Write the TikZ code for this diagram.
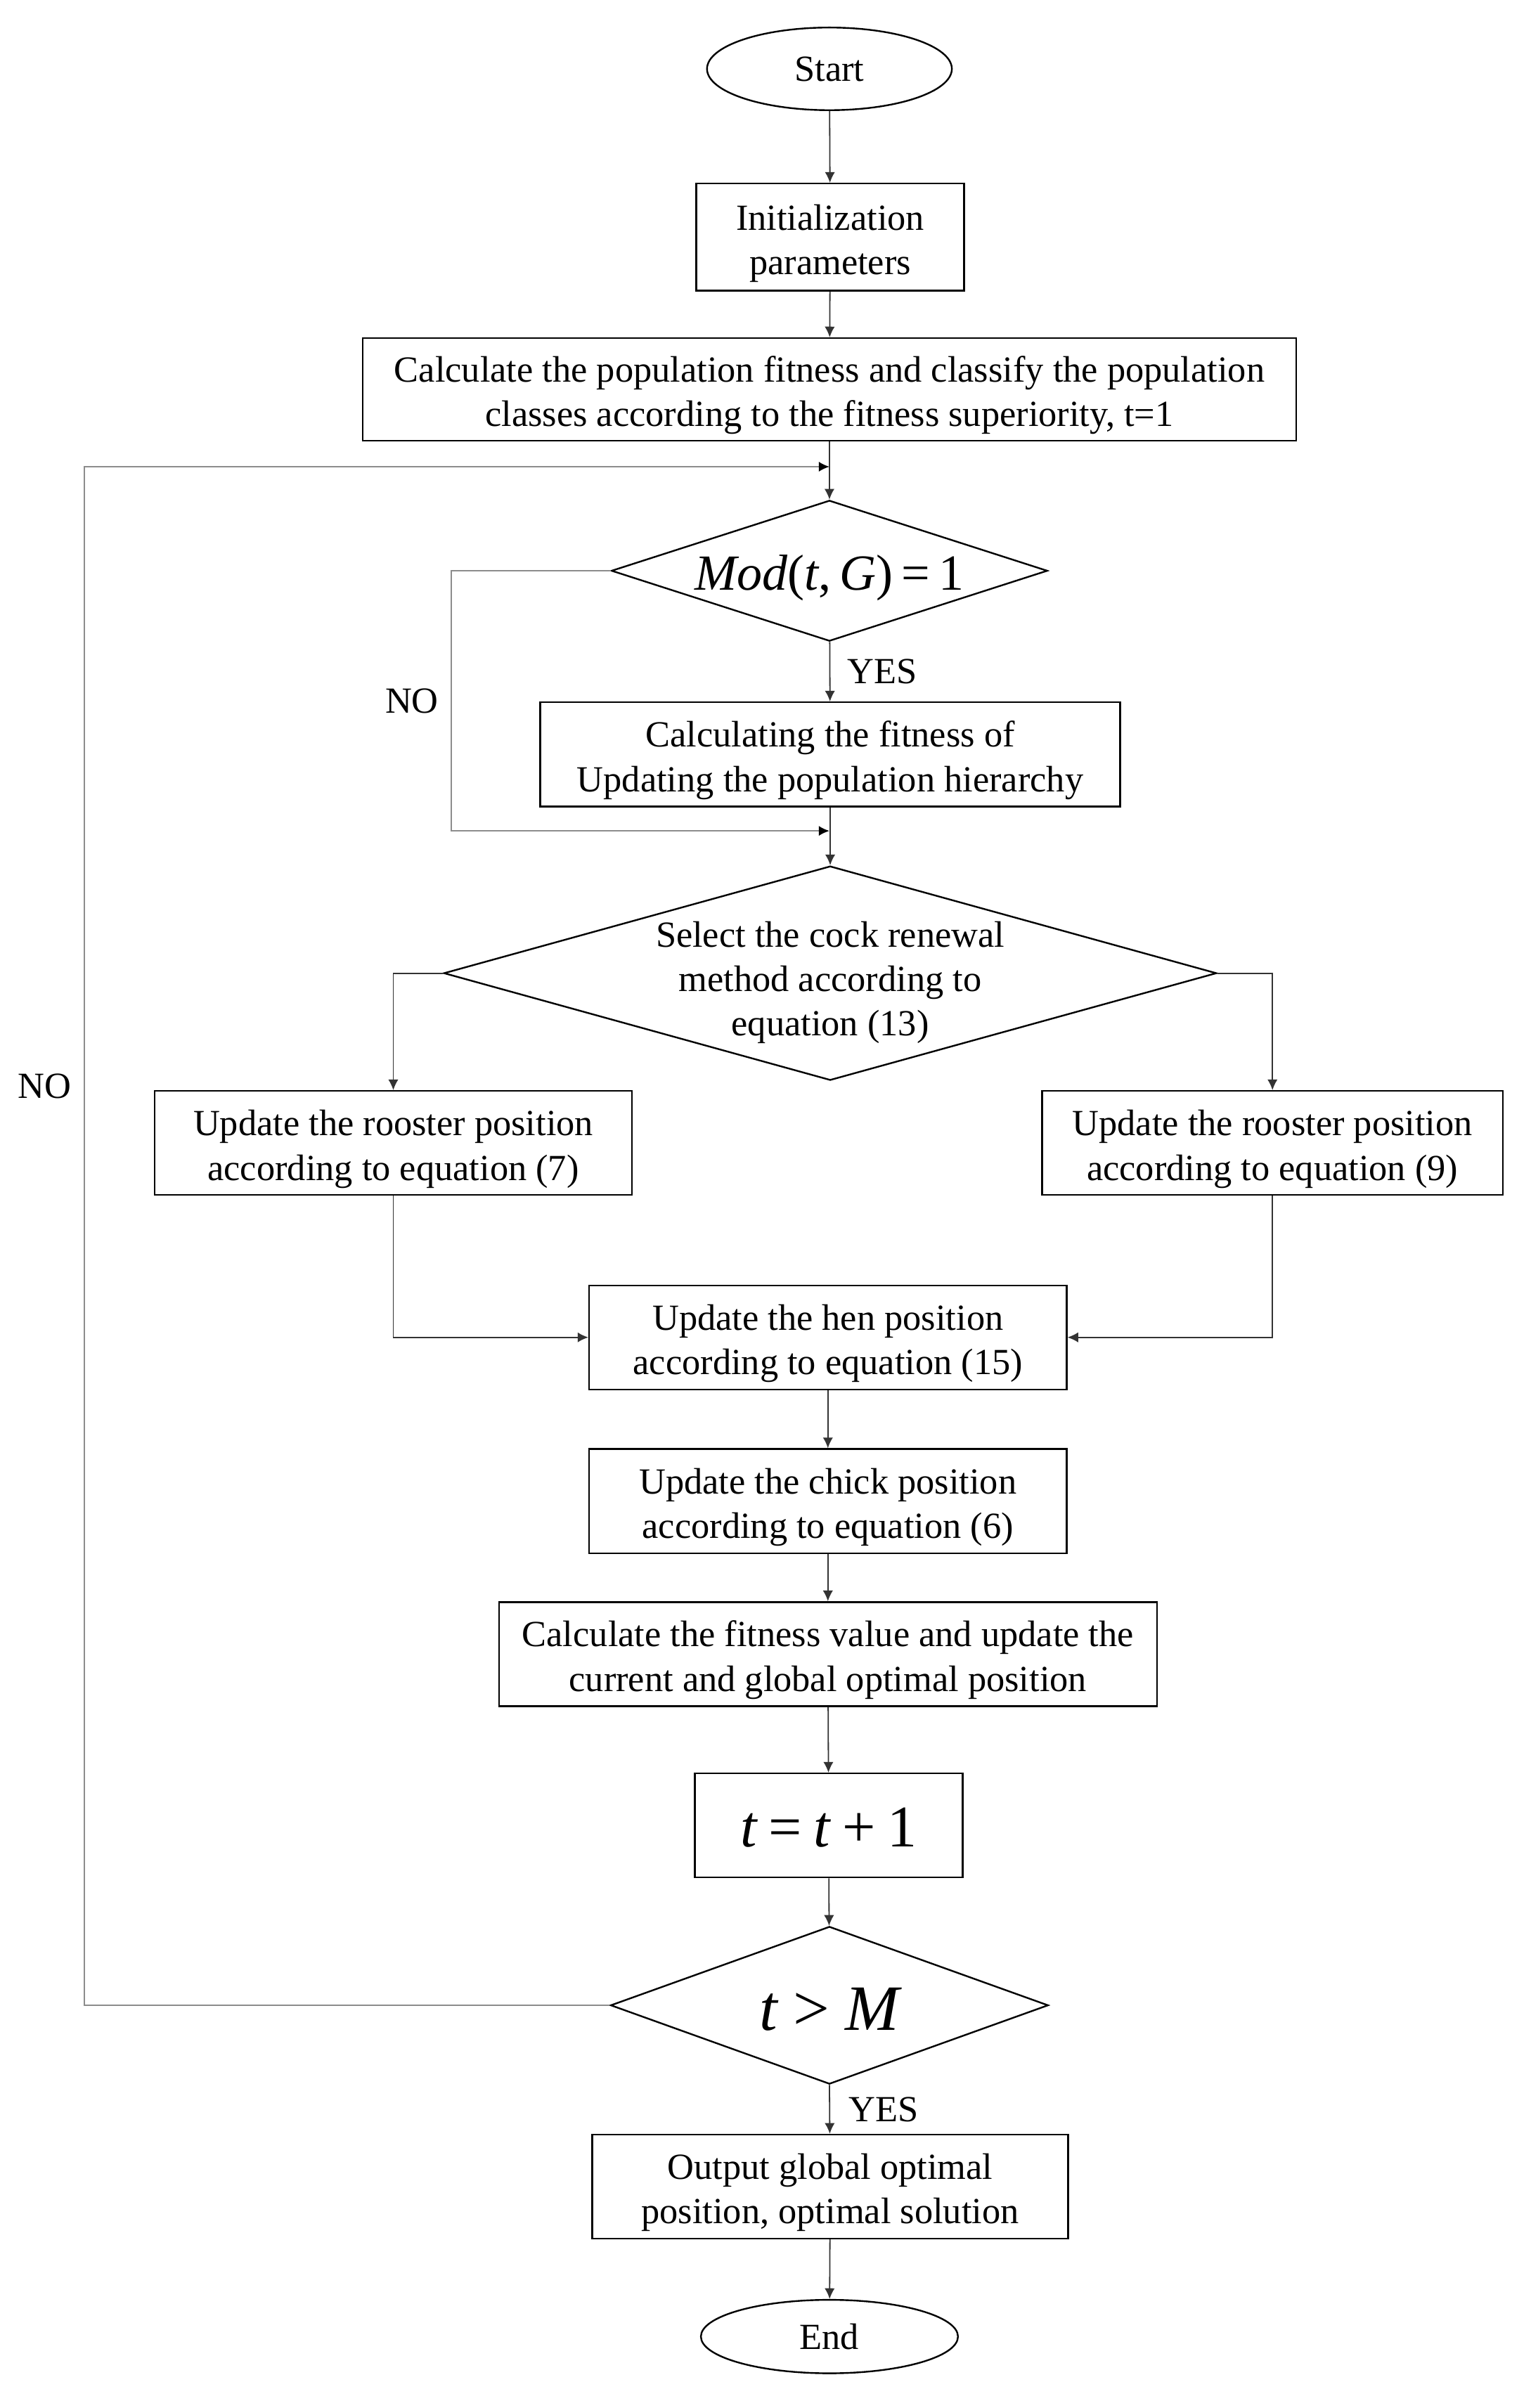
\documentclass[tikz,border=0pt]{standalone}
\usepackage{fontspec}
\setmainfont{Liberation Serif}
\usetikzlibrary{shapes.geometric,arrows.meta}
\newcommand{\uu}{0.5443pt}
\tikzset{
  every node/.style={font=\fontsize{13.1}{15.8}\selectfont},
  box/.style={draw=black, line width=0.6pt, rectangle, inner sep=0pt, align=center},
  oval/.style={draw=black, line width=0.6pt, ellipse, inner sep=0pt},
  decision/.style={draw=black, line width=0.6pt, diamond, inner sep=0pt, align=center},
  conn/.style={draw=black!80, line width=0.45pt, -{Latex[length=3.8pt,width=3.6pt]}},
  loopline/.style={draw=black!45, line width=0.55pt, -{Latex[length=3.8pt,width=3.6pt,color=black]}},
  lbl/.style={inner sep=0pt}
}
\newcommand{\zb}[2]{\makebox[0pt]{\raisebox{#1}[0pt][0pt]{#2}}}
\newcommand{\tl}{\rule{0pt}{13.4pt}}
\begin{document}
\begin{tikzpicture}[x=0.5443pt,y=-0.5443pt]
\useasboundingbox (0,0) rectangle (1000,1573.7);
% nodes
\node[oval, minimum width=160*\uu, minimum height=54*\uu] (start) at (542,45) {Start};
\node[box, minimum width=175*\uu, minimum height=70*\uu] (init) at (542.5,155) {\tl Initialization\\parameters};
\node[box, minimum width=610*\uu, minimum height=67*\uu] (calc) at (542,254.5) {\tl Calculate the population fitness and classify the population\\classes according to the fitness superiority, t=1};
\node[decision, minimum width=285*\uu, minimum height=92*\uu] (d1) at (542,373) {\zb{-6.8pt}{\fontsize{18}{20}\selectfont\itshape Mod\upshape(\itshape t\upshape,\,\itshape G\upshape)\,=\,1}};
\node[box, minimum width=379*\uu, minimum height=68*\uu] (fitb) at (542.5,493) {\tl Calculating the fitness of\\Updating the population hierarchy};
\node[decision, minimum width=505*\uu, minimum height=140*\uu] (d2) at (542.5,636) {\zb{-6.3pt}{\parbox[c]{200pt}{\centering Select the cock renewal\\method according to\\equation (13)}}};
\node[box, minimum width=312*\uu, minimum height=68*\uu] (rl) at (257,747) {\tl Update the rooster position\\according to equation (7)};
\node[box, minimum width=301*\uu, minimum height=68*\uu] (rr) at (831.5,747) {\tl Update the rooster position\\according to equation (9)};
\node[box, minimum width=312*\uu, minimum height=68*\uu] (hen) at (541,874) {\tl Update the hen position\\according to equation (15)};
\node[box, minimum width=312*\uu, minimum height=68*\uu] (chick) at (541,981) {\tl Update the chick position\\according to equation (6)};
\node[box, minimum width=430*\uu, minimum height=68*\uu] (cfv) at (541,1081) {\tl Calculate the fitness value and update the\\current and global optimal position};
\node[box, minimum width=175*\uu, minimum height=68*\uu] (tinc) at (541.5,1193) {\zb{-7.5pt}{\fontsize{21}{24}\selectfont\itshape t\upshape\kern0.2em=\kern0.2em\itshape t\upshape\kern0.2em+\kern0.2em1}};
\node[decision, minimum width=286*\uu, minimum height=103*\uu] (d3) at (542,1310.5) {\zb{-8.8pt}{\fontsize{23}{26}\selectfont\itshape t\upshape\kern0.24em>\kern0.24em\itshape M}};
\node[box, minimum width=311*\uu, minimum height=68*\uu] (out) at (542.5,1429) {\tl Output global optimal\\position, optimal solution};
\node[oval, minimum width=168*\uu, minimum height=48*\uu] (end) at (542,1527) {End};
% helper coordinates
\coordinate (j1) at (542,305);
\coordinate (lft) at (55,305);
\coordinate (j2) at (542,543);
\coordinate (nol) at (295,543);
% connectors
\draw[conn] (start) -- (init);
\draw[conn] (init) -- (calc);
\draw[conn] (calc) -- (d1);
\draw[conn] (d1) -- node[right, lbl, xshift=11*\uu]{YES} (fitb);
\draw[conn] (fitb) -- (d2);
\draw[loopline] (d1.west) -| node[pos=0.75, left, lbl, xshift=-8*\uu]{NO} (nol) -- (j2);
\draw[conn] (d2.west) -| (rl.north);
\draw[conn] (d2.east) -| (rr.north);
\draw[conn] (rl.south) |- (hen.west);
\draw[conn] (rr.south) |- (hen.east);
\draw[conn] (hen) -- (chick);
\draw[conn] (chick) -- (cfv);
\draw[conn] (cfv) -- (tinc);
\draw[conn] (tinc) -- (d3);
\draw[loopline] (d3.west) -| (lft) -- (j1);
\node[lbl] (no2) at (29,710) {NO};
\draw[conn] (d3.south) -- node[right, lbl, xshift=12*\uu]{YES} (out);
\draw[conn] (out) -- (end);
\end{tikzpicture}
\end{document}
